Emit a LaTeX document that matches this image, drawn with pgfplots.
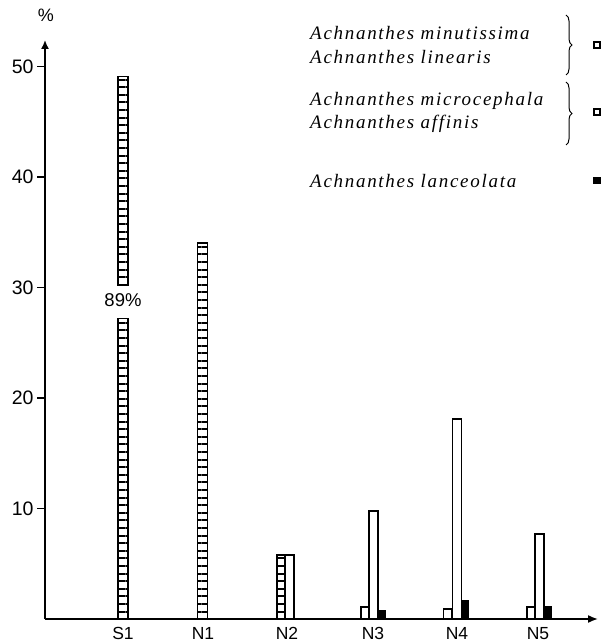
\documentclass[border=0pt]{standalone}
\usepackage{pgfplots}
\pgfplotsset{compat=1.18}
\usepackage{fontspec}
\setmainfont{Liberation Sans}
\newfontfamily\legfont[LetterSpace=9]{Liberation Serif}
\usetikzlibrary{patterns.meta,arrows.meta,decorations.pathreplacing}

\tikzset{
  ladder/.style={draw=black, line width=1.8pt,
    pattern={Lines[angle=0,distance=7.6pt,line width=2pt]}},
  legtext/.style={anchor=west, inner sep=0pt,
    font=\legfont\itshape\fontsize{19}{19}\selectfont},
}

\begin{document}
\begin{tikzpicture}[x=1pt,y=1pt]
\useasboundingbox (0,0) rectangle (602,642);
\begin{axis}[
  at={(45pt,23pt)}, anchor=south west,
  scale only axis, width=553pt, height=579pt,
  xmin=45, xmax=598, ymin=0, ymax=52.4,
  axis lines=left,
  axis line style={line width=1.6pt},
  x axis line style={-{Latex[length=10pt,width=8pt]}},
  y axis line style={-{Latex[length=9pt,width=8pt]}},
  xtick={123,203,287,373,457,538},
  xticklabels={S1,N1,N2,N3,N4,N5},
  x tick style={draw=none},
  xticklabel style={anchor=base, inner sep=0.5pt, yshift=-12pt,
    font=\fontsize{17.5}{17.5}\selectfont},
  ytick={10,20,30,40,50},
  y tick style={line width=1.2pt, black},
  tick align=outside,
  major tick length=8pt,
  yticklabel style={font=\fontsize{19.5}{19.5}\selectfont},
  /pgf/number format/assume math mode=true,
  clip=false,
]
% Achnanthes minutissima + linearis
\addplot[ybar, bar width=10, bar shift=0pt, ladder]
  coordinates {(123,27.2) (202.5,34.0)};
\addplot[ladder]
  coordinates {(118,30.2) (128,30.2) (128,49.1) (118,49.1)} -- cycle;
\addplot[ybar, bar width=9, bar shift=0pt, ladder]
  coordinates {(281.5,5.8)};
\addplot[ybar, bar width=8, bar shift=0pt, draw=black, line width=1.6pt, fill=white]
  coordinates {(365,1.1) (447.5,0.9) (531,1.1)};
% Achnanthes microcephala + affinis
\addplot[ybar, bar width=9, bar shift=0pt, draw=black, line width=1.6pt, fill=white]
  coordinates {(289.5,5.8) (373.5,9.8) (457,18.1) (539.5,7.7)};
% Achnanthes lanceolata
\addplot[ybar, bar width=7, bar shift=0pt, draw=black, line width=1.2pt, fill=black]
  coordinates {(381.5,0.8) (465,1.7) (547.5,1.1)};

\node[font=\fontsize{18.5}{18.5}\selectfont] at (axis cs:123,28.85) {89\%};
\end{axis}

\node[font=\fontsize{18}{18}\selectfont] at (46,627) {\%};

\node[legtext] at (310,609) {Achnanthes minutissima};
\node[legtext] at (310,585) {Achnanthes linearis};
\node[legtext] at (310,541) {Achnanthes microcephala};
\node[legtext] at (310,518) {Achnanthes affinis};
\node[legtext] at (310,461) {Achnanthes lanceolata};

\draw[decorate, decoration={brace, amplitude=6pt}, line width=1pt] (566,627) -- (566,567);
\draw[decorate, decoration={brace, amplitude=6pt}, line width=1pt] (566,560) -- (566,497);

\draw[line width=1.4pt] (594,594) rectangle (600,600);
\draw[line width=1.4pt] (594,527) rectangle (600,533);
\fill (593,458) rectangle (601,465);
\end{tikzpicture}
\end{document}
